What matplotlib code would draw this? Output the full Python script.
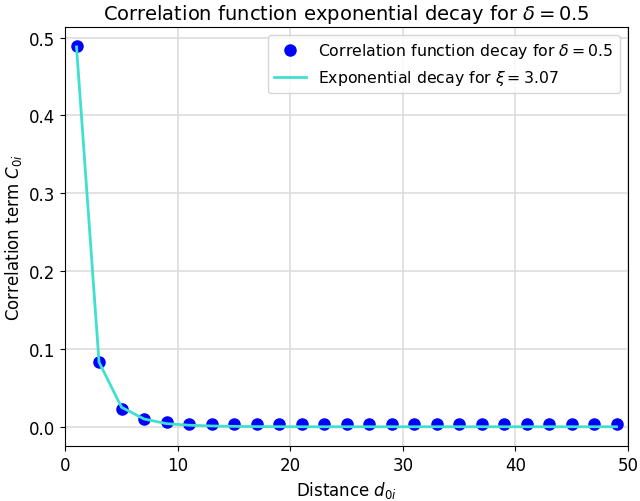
import matplotlib
matplotlib.use('Agg')
from matplotlib import pyplot as plt

# distances d_0i
dist = [1, 3, 5, 7, 9, 11, 13, 15, 17, 19, 21, 23, 25, 27, 29, 31, 33, 35, 37, 39, 41, 43, 45, 47, 49]
# measured correlation terms C_0i
corr = [0.489, 0.0835, 0.023, 0.0095, 0.0055, 0.004, 0.0037, 0.0036, 0.0036, 0.0036, 0.0036, 0.0036,
        0.0036, 0.0036, 0.0036, 0.0036, 0.0036, 0.0036, 0.0036, 0.0036, 0.0036, 0.0036, 0.0036, 0.0036, 0.0036]
# exponential fit values
fit = [0.488, 0.083, 0.025, 0.010, 0.004, 0.002, 0.001, 0.0005, 0.0002, 0.0001, 0.0, 0.0,
       0.0, 0.0, 0.0, 0.0, 0.0, 0.0, 0.0, 0.0, 0.0, 0.0, 0.0, 0.0, 0.0]

plt.rcParams['font.size'] = 12
fig = plt.figure(figsize=(6.4, 5.02), dpi=100)
ax = fig.add_subplot(111)
ax.plot(dist, corr, 'o', color='blue', markersize=8, label=r'Correlation function decay for $\delta=0.5$')
ax.plot(dist, fit, color='turquoise', lw=2, label=r'Exponential decay for $\xi=3.07$')
ax.set_xlim(0, 50)
ax.grid(color='#dddddd', lw=1.2)
ax.set_axisbelow(True)
ax.tick_params(labelsize=12)
plt.xlabel(r'Distance $d_{0i}$', fontsize=12)
plt.ylabel(r'Correlation term $C_{0i}$', fontsize=12)
plt.title(r'Correlation function exponential decay for $\delta=0.5$', fontsize=14)
plt.legend(loc='upper right', fontsize=11.3)
plt.subplots_adjust(left=0.102, right=0.981, top=0.944, bottom=0.110)
plt.savefig('out.png', dpi=100)
